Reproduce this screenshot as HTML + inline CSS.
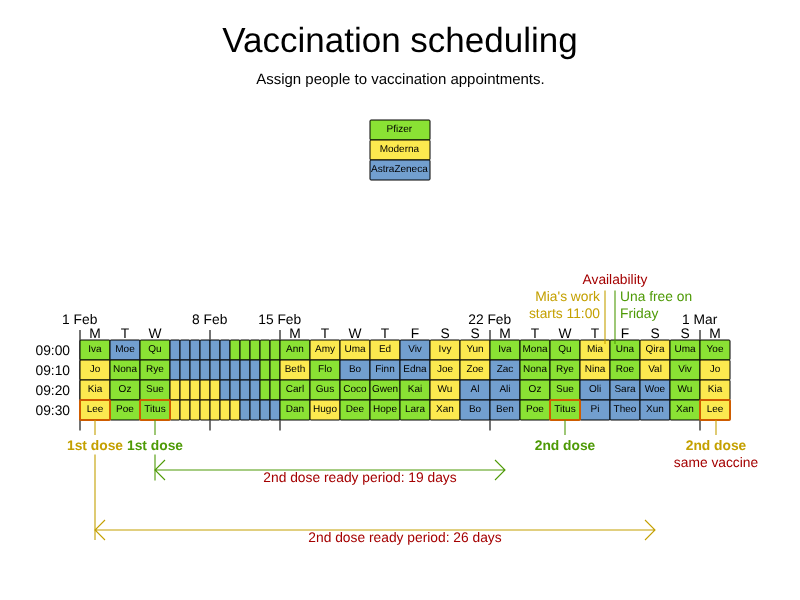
<!DOCTYPE html>
<html lang="en"><head><meta charset="utf-8"><title>Vaccination scheduling</title>
<style>text{text-rendering:geometricPrecision}html,body{margin:0;padding:0;background:#fff;overflow:hidden}svg{display:block}</style></head>
<body>
<svg width="800" height="600" viewBox="0 0 800 600" font-family="'Liberation Sans', sans-serif">
<rect width="800" height="600" fill="#fff"/>
<text x="400" y="51.5" font-size="35" text-anchor="middle" fill="#000">Vaccination scheduling</text>
<text x="400.4" y="83.5" font-size="15" text-anchor="middle" fill="#000">Assign people to vaccination appointments.</text>
<rect x="370" y="120" width="60" height="20" rx="1" fill="#8ae234" stroke="#000" stroke-width="1"/>
<text x="399.4" y="132.3" font-size="10" text-anchor="middle" fill="#000">Pfizer</text>
<rect x="370" y="140" width="60" height="20" rx="1" fill="#fce94f" stroke="#000" stroke-width="1"/>
<text x="399.4" y="152.3" font-size="10" text-anchor="middle" fill="#000">Moderna</text>
<rect x="370" y="160" width="60" height="20" rx="1" fill="#729fcf" stroke="#000" stroke-width="1"/>
<text x="399.4" y="172.3" font-size="10" text-anchor="middle" fill="#000">AstraZeneca</text>
<line x1="80" y1="330" x2="80" y2="430.5" stroke="#000" stroke-width="1.1"/>
<line x1="210" y1="330" x2="210" y2="430.5" stroke="#000" stroke-width="1.1"/>
<line x1="280" y1="330" x2="280" y2="430.5" stroke="#000" stroke-width="1.1"/>
<line x1="490" y1="330" x2="490" y2="430.5" stroke="#000" stroke-width="1.1"/>
<line x1="700" y1="330" x2="700" y2="430.5" stroke="#000" stroke-width="1.1"/>
<text x="79.7" y="324" font-size="13.8" text-anchor="middle" fill="#000">1 Feb</text>
<text x="209.7" y="324" font-size="13.8" text-anchor="middle" fill="#000">8 Feb</text>
<text x="279.7" y="324" font-size="13.8" text-anchor="middle" fill="#000">15 Feb</text>
<text x="489.7" y="324" font-size="13.8" text-anchor="middle" fill="#000">22 Feb</text>
<text x="699.7" y="324" font-size="13.8" text-anchor="middle" fill="#000">1 Mar</text>
<text x="95.0" y="337.6" font-size="13.8" text-anchor="middle" fill="#000">M</text>
<text x="125.0" y="337.6" font-size="13.8" text-anchor="middle" fill="#000">T</text>
<text x="155.0" y="337.6" font-size="13.8" text-anchor="middle" fill="#000">W</text>
<text x="295.0" y="337.6" font-size="13.8" text-anchor="middle" fill="#000">M</text>
<text x="325.0" y="337.6" font-size="13.8" text-anchor="middle" fill="#000">T</text>
<text x="355.0" y="337.6" font-size="13.8" text-anchor="middle" fill="#000">W</text>
<text x="385.0" y="337.6" font-size="13.8" text-anchor="middle" fill="#000">T</text>
<text x="415.0" y="337.6" font-size="13.8" text-anchor="middle" fill="#000">F</text>
<text x="445.0" y="337.6" font-size="13.8" text-anchor="middle" fill="#000">S</text>
<text x="475.0" y="337.6" font-size="13.8" text-anchor="middle" fill="#000">S</text>
<text x="505.0" y="337.6" font-size="13.8" text-anchor="middle" fill="#000">M</text>
<text x="535.0" y="337.6" font-size="13.8" text-anchor="middle" fill="#000">T</text>
<text x="565.0" y="337.6" font-size="13.8" text-anchor="middle" fill="#000">W</text>
<text x="595.0" y="337.6" font-size="13.8" text-anchor="middle" fill="#000">T</text>
<text x="625.0" y="337.6" font-size="13.8" text-anchor="middle" fill="#000">F</text>
<text x="655.0" y="337.6" font-size="13.8" text-anchor="middle" fill="#000">S</text>
<text x="685.0" y="337.6" font-size="13.8" text-anchor="middle" fill="#000">S</text>
<text x="715.0" y="337.6" font-size="13.8" text-anchor="middle" fill="#000">M</text>
<text x="70" y="354.8" font-size="13.8" text-anchor="end" fill="#000">09:00</text>
<text x="70" y="374.8" font-size="13.8" text-anchor="end" fill="#000">09:10</text>
<text x="70" y="394.8" font-size="13.8" text-anchor="end" fill="#000">09:20</text>
<text x="70" y="414.8" font-size="13.8" text-anchor="end" fill="#000">09:30</text>
<rect x="80" y="340" width="30" height="20" rx="1" fill="#8ae234" stroke="#000" stroke-width="1"/>
<text x="95.0" y="352.3" font-size="10" text-anchor="middle" fill="#000">Iva</text>
<rect x="110" y="340" width="30" height="20" rx="1" fill="#729fcf" stroke="#000" stroke-width="1"/>
<text x="125.0" y="352.3" font-size="10" text-anchor="middle" fill="#000">Moe</text>
<rect x="140" y="340" width="30" height="20" rx="1" fill="#8ae234" stroke="#000" stroke-width="1"/>
<text x="155.0" y="352.3" font-size="10" text-anchor="middle" fill="#000">Qu</text>
<rect x="170" y="340" width="10" height="20" rx="1" fill="#729fcf" stroke="#000" stroke-width="1"/>
<rect x="180" y="340" width="10" height="20" rx="1" fill="#729fcf" stroke="#000" stroke-width="1"/>
<rect x="190" y="340" width="10" height="20" rx="1" fill="#729fcf" stroke="#000" stroke-width="1"/>
<rect x="200" y="340" width="10" height="20" rx="1" fill="#729fcf" stroke="#000" stroke-width="1"/>
<rect x="210" y="340" width="10" height="20" rx="1" fill="#729fcf" stroke="#000" stroke-width="1"/>
<rect x="220" y="340" width="10" height="20" rx="1" fill="#729fcf" stroke="#000" stroke-width="1"/>
<rect x="230" y="340" width="10" height="20" rx="1" fill="#8ae234" stroke="#000" stroke-width="1"/>
<rect x="240" y="340" width="10" height="20" rx="1" fill="#8ae234" stroke="#000" stroke-width="1"/>
<rect x="250" y="340" width="10" height="20" rx="1" fill="#8ae234" stroke="#000" stroke-width="1"/>
<rect x="260" y="340" width="10" height="20" rx="1" fill="#8ae234" stroke="#000" stroke-width="1"/>
<rect x="270" y="340" width="10" height="20" rx="1" fill="#8ae234" stroke="#000" stroke-width="1"/>
<rect x="280" y="340" width="30" height="20" rx="1" fill="#8ae234" stroke="#000" stroke-width="1"/>
<text x="295.0" y="352.3" font-size="10" text-anchor="middle" fill="#000">Ann</text>
<rect x="310" y="340" width="30" height="20" rx="1" fill="#fce94f" stroke="#000" stroke-width="1"/>
<text x="325.0" y="352.3" font-size="10" text-anchor="middle" fill="#000">Amy</text>
<rect x="340" y="340" width="30" height="20" rx="1" fill="#fce94f" stroke="#000" stroke-width="1"/>
<text x="355.0" y="352.3" font-size="10" text-anchor="middle" fill="#000">Uma</text>
<rect x="370" y="340" width="30" height="20" rx="1" fill="#fce94f" stroke="#000" stroke-width="1"/>
<text x="385.0" y="352.3" font-size="10" text-anchor="middle" fill="#000">Ed</text>
<rect x="400" y="340" width="30" height="20" rx="1" fill="#729fcf" stroke="#000" stroke-width="1"/>
<text x="415.0" y="352.3" font-size="10" text-anchor="middle" fill="#000">Viv</text>
<rect x="430" y="340" width="30" height="20" rx="1" fill="#fce94f" stroke="#000" stroke-width="1"/>
<text x="445.0" y="352.3" font-size="10" text-anchor="middle" fill="#000">Ivy</text>
<rect x="460" y="340" width="30" height="20" rx="1" fill="#fce94f" stroke="#000" stroke-width="1"/>
<text x="475.0" y="352.3" font-size="10" text-anchor="middle" fill="#000">Yun</text>
<rect x="490" y="340" width="30" height="20" rx="1" fill="#8ae234" stroke="#000" stroke-width="1"/>
<text x="505.0" y="352.3" font-size="10" text-anchor="middle" fill="#000">Iva</text>
<rect x="520" y="340" width="30" height="20" rx="1" fill="#8ae234" stroke="#000" stroke-width="1"/>
<text x="535.0" y="352.3" font-size="10" text-anchor="middle" fill="#000">Mona</text>
<rect x="550" y="340" width="30" height="20" rx="1" fill="#8ae234" stroke="#000" stroke-width="1"/>
<text x="565.0" y="352.3" font-size="10" text-anchor="middle" fill="#000">Qu</text>
<rect x="580" y="340" width="30" height="20" rx="1" fill="#fce94f" stroke="#000" stroke-width="1"/>
<text x="595.0" y="352.3" font-size="10" text-anchor="middle" fill="#000">Mia</text>
<rect x="610" y="340" width="30" height="20" rx="1" fill="#8ae234" stroke="#000" stroke-width="1"/>
<text x="625.0" y="352.3" font-size="10" text-anchor="middle" fill="#000">Una</text>
<rect x="640" y="340" width="30" height="20" rx="1" fill="#fce94f" stroke="#000" stroke-width="1"/>
<text x="655.0" y="352.3" font-size="10" text-anchor="middle" fill="#000">Qira</text>
<rect x="670" y="340" width="30" height="20" rx="1" fill="#8ae234" stroke="#000" stroke-width="1"/>
<text x="685.0" y="352.3" font-size="10" text-anchor="middle" fill="#000">Uma</text>
<rect x="700" y="340" width="30" height="20" rx="1" fill="#8ae234" stroke="#000" stroke-width="1"/>
<text x="715.0" y="352.3" font-size="10" text-anchor="middle" fill="#000">Yoe</text>
<rect x="80" y="360" width="30" height="20" rx="1" fill="#fce94f" stroke="#000" stroke-width="1"/>
<text x="95.0" y="372.3" font-size="10" text-anchor="middle" fill="#000">Jo</text>
<rect x="110" y="360" width="30" height="20" rx="1" fill="#8ae234" stroke="#000" stroke-width="1"/>
<text x="125.0" y="372.3" font-size="10" text-anchor="middle" fill="#000">Nona</text>
<rect x="140" y="360" width="30" height="20" rx="1" fill="#8ae234" stroke="#000" stroke-width="1"/>
<text x="155.0" y="372.3" font-size="10" text-anchor="middle" fill="#000">Rye</text>
<rect x="170" y="360" width="10" height="20" rx="1" fill="#729fcf" stroke="#000" stroke-width="1"/>
<rect x="180" y="360" width="10" height="20" rx="1" fill="#729fcf" stroke="#000" stroke-width="1"/>
<rect x="190" y="360" width="10" height="20" rx="1" fill="#729fcf" stroke="#000" stroke-width="1"/>
<rect x="200" y="360" width="10" height="20" rx="1" fill="#729fcf" stroke="#000" stroke-width="1"/>
<rect x="210" y="360" width="10" height="20" rx="1" fill="#729fcf" stroke="#000" stroke-width="1"/>
<rect x="220" y="360" width="10" height="20" rx="1" fill="#729fcf" stroke="#000" stroke-width="1"/>
<rect x="230" y="360" width="10" height="20" rx="1" fill="#729fcf" stroke="#000" stroke-width="1"/>
<rect x="240" y="360" width="10" height="20" rx="1" fill="#729fcf" stroke="#000" stroke-width="1"/>
<rect x="250" y="360" width="10" height="20" rx="1" fill="#729fcf" stroke="#000" stroke-width="1"/>
<rect x="260" y="360" width="10" height="20" rx="1" fill="#8ae234" stroke="#000" stroke-width="1"/>
<rect x="270" y="360" width="10" height="20" rx="1" fill="#8ae234" stroke="#000" stroke-width="1"/>
<rect x="280" y="360" width="30" height="20" rx="1" fill="#fce94f" stroke="#000" stroke-width="1"/>
<text x="295.0" y="372.3" font-size="10" text-anchor="middle" fill="#000">Beth</text>
<rect x="310" y="360" width="30" height="20" rx="1" fill="#8ae234" stroke="#000" stroke-width="1"/>
<text x="325.0" y="372.3" font-size="10" text-anchor="middle" fill="#000">Flo</text>
<rect x="340" y="360" width="30" height="20" rx="1" fill="#729fcf" stroke="#000" stroke-width="1"/>
<text x="355.0" y="372.3" font-size="10" text-anchor="middle" fill="#000">Bo</text>
<rect x="370" y="360" width="30" height="20" rx="1" fill="#729fcf" stroke="#000" stroke-width="1"/>
<text x="385.0" y="372.3" font-size="10" text-anchor="middle" fill="#000">Finn</text>
<rect x="400" y="360" width="30" height="20" rx="1" fill="#729fcf" stroke="#000" stroke-width="1"/>
<text x="415.0" y="372.3" font-size="10" text-anchor="middle" fill="#000">Edna</text>
<rect x="430" y="360" width="30" height="20" rx="1" fill="#fce94f" stroke="#000" stroke-width="1"/>
<text x="445.0" y="372.3" font-size="10" text-anchor="middle" fill="#000">Joe</text>
<rect x="460" y="360" width="30" height="20" rx="1" fill="#fce94f" stroke="#000" stroke-width="1"/>
<text x="475.0" y="372.3" font-size="10" text-anchor="middle" fill="#000">Zoe</text>
<rect x="490" y="360" width="30" height="20" rx="1" fill="#729fcf" stroke="#000" stroke-width="1"/>
<text x="505.0" y="372.3" font-size="10" text-anchor="middle" fill="#000">Zac</text>
<rect x="520" y="360" width="30" height="20" rx="1" fill="#8ae234" stroke="#000" stroke-width="1"/>
<text x="535.0" y="372.3" font-size="10" text-anchor="middle" fill="#000">Nona</text>
<rect x="550" y="360" width="30" height="20" rx="1" fill="#8ae234" stroke="#000" stroke-width="1"/>
<text x="565.0" y="372.3" font-size="10" text-anchor="middle" fill="#000">Rye</text>
<rect x="580" y="360" width="30" height="20" rx="1" fill="#fce94f" stroke="#000" stroke-width="1"/>
<text x="595.0" y="372.3" font-size="10" text-anchor="middle" fill="#000">Nina</text>
<rect x="610" y="360" width="30" height="20" rx="1" fill="#8ae234" stroke="#000" stroke-width="1"/>
<text x="625.0" y="372.3" font-size="10" text-anchor="middle" fill="#000">Roe</text>
<rect x="640" y="360" width="30" height="20" rx="1" fill="#fce94f" stroke="#000" stroke-width="1"/>
<text x="655.0" y="372.3" font-size="10" text-anchor="middle" fill="#000">Val</text>
<rect x="670" y="360" width="30" height="20" rx="1" fill="#8ae234" stroke="#000" stroke-width="1"/>
<text x="685.0" y="372.3" font-size="10" text-anchor="middle" fill="#000">Viv</text>
<rect x="700" y="360" width="30" height="20" rx="1" fill="#fce94f" stroke="#000" stroke-width="1"/>
<text x="715.0" y="372.3" font-size="10" text-anchor="middle" fill="#000">Jo</text>
<rect x="80" y="380" width="30" height="20" rx="1" fill="#fce94f" stroke="#000" stroke-width="1"/>
<text x="95.0" y="392.3" font-size="10" text-anchor="middle" fill="#000">Kia</text>
<rect x="110" y="380" width="30" height="20" rx="1" fill="#8ae234" stroke="#000" stroke-width="1"/>
<text x="125.0" y="392.3" font-size="10" text-anchor="middle" fill="#000">Oz</text>
<rect x="140" y="380" width="30" height="20" rx="1" fill="#8ae234" stroke="#000" stroke-width="1"/>
<text x="155.0" y="392.3" font-size="10" text-anchor="middle" fill="#000">Sue</text>
<rect x="170" y="380" width="10" height="20" rx="1" fill="#fce94f" stroke="#000" stroke-width="1"/>
<rect x="180" y="380" width="10" height="20" rx="1" fill="#fce94f" stroke="#000" stroke-width="1"/>
<rect x="190" y="380" width="10" height="20" rx="1" fill="#fce94f" stroke="#000" stroke-width="1"/>
<rect x="200" y="380" width="10" height="20" rx="1" fill="#fce94f" stroke="#000" stroke-width="1"/>
<rect x="210" y="380" width="10" height="20" rx="1" fill="#fce94f" stroke="#000" stroke-width="1"/>
<rect x="220" y="380" width="10" height="20" rx="1" fill="#729fcf" stroke="#000" stroke-width="1"/>
<rect x="230" y="380" width="10" height="20" rx="1" fill="#729fcf" stroke="#000" stroke-width="1"/>
<rect x="240" y="380" width="10" height="20" rx="1" fill="#729fcf" stroke="#000" stroke-width="1"/>
<rect x="250" y="380" width="10" height="20" rx="1" fill="#729fcf" stroke="#000" stroke-width="1"/>
<rect x="260" y="380" width="10" height="20" rx="1" fill="#8ae234" stroke="#000" stroke-width="1"/>
<rect x="270" y="380" width="10" height="20" rx="1" fill="#8ae234" stroke="#000" stroke-width="1"/>
<rect x="280" y="380" width="30" height="20" rx="1" fill="#8ae234" stroke="#000" stroke-width="1"/>
<text x="295.0" y="392.3" font-size="10" text-anchor="middle" fill="#000">Carl</text>
<rect x="310" y="380" width="30" height="20" rx="1" fill="#8ae234" stroke="#000" stroke-width="1"/>
<text x="325.0" y="392.3" font-size="10" text-anchor="middle" fill="#000">Gus</text>
<rect x="340" y="380" width="30" height="20" rx="1" fill="#8ae234" stroke="#000" stroke-width="1"/>
<text x="355.0" y="392.3" font-size="10" text-anchor="middle" fill="#000">Coco</text>
<rect x="370" y="380" width="30" height="20" rx="1" fill="#8ae234" stroke="#000" stroke-width="1"/>
<text x="385.0" y="392.3" font-size="10" text-anchor="middle" fill="#000">Gwen</text>
<rect x="400" y="380" width="30" height="20" rx="1" fill="#8ae234" stroke="#000" stroke-width="1"/>
<text x="415.0" y="392.3" font-size="10" text-anchor="middle" fill="#000">Kai</text>
<rect x="430" y="380" width="30" height="20" rx="1" fill="#fce94f" stroke="#000" stroke-width="1"/>
<text x="445.0" y="392.3" font-size="10" text-anchor="middle" fill="#000">Wu</text>
<rect x="460" y="380" width="30" height="20" rx="1" fill="#729fcf" stroke="#000" stroke-width="1"/>
<text x="475.0" y="392.3" font-size="10" text-anchor="middle" fill="#000">Al</text>
<rect x="490" y="380" width="30" height="20" rx="1" fill="#729fcf" stroke="#000" stroke-width="1"/>
<text x="505.0" y="392.3" font-size="10" text-anchor="middle" fill="#000">Ali</text>
<rect x="520" y="380" width="30" height="20" rx="1" fill="#8ae234" stroke="#000" stroke-width="1"/>
<text x="535.0" y="392.3" font-size="10" text-anchor="middle" fill="#000">Oz</text>
<rect x="550" y="380" width="30" height="20" rx="1" fill="#8ae234" stroke="#000" stroke-width="1"/>
<text x="565.0" y="392.3" font-size="10" text-anchor="middle" fill="#000">Sue</text>
<rect x="580" y="380" width="30" height="20" rx="1" fill="#729fcf" stroke="#000" stroke-width="1"/>
<text x="595.0" y="392.3" font-size="10" text-anchor="middle" fill="#000">Oli</text>
<rect x="610" y="380" width="30" height="20" rx="1" fill="#729fcf" stroke="#000" stroke-width="1"/>
<text x="625.0" y="392.3" font-size="10" text-anchor="middle" fill="#000">Sara</text>
<rect x="640" y="380" width="30" height="20" rx="1" fill="#729fcf" stroke="#000" stroke-width="1"/>
<text x="655.0" y="392.3" font-size="10" text-anchor="middle" fill="#000">Woe</text>
<rect x="670" y="380" width="30" height="20" rx="1" fill="#8ae234" stroke="#000" stroke-width="1"/>
<text x="685.0" y="392.3" font-size="10" text-anchor="middle" fill="#000">Wu</text>
<rect x="700" y="380" width="30" height="20" rx="1" fill="#fce94f" stroke="#000" stroke-width="1"/>
<text x="715.0" y="392.3" font-size="10" text-anchor="middle" fill="#000">Kia</text>
<rect x="80" y="400" width="30" height="20" rx="1" fill="#fce94f" stroke="#000" stroke-width="1"/>
<text x="95.0" y="412.3" font-size="10" text-anchor="middle" fill="#000">Lee</text>
<rect x="110" y="400" width="30" height="20" rx="1" fill="#8ae234" stroke="#000" stroke-width="1"/>
<text x="125.0" y="412.3" font-size="10" text-anchor="middle" fill="#000">Poe</text>
<rect x="140" y="400" width="30" height="20" rx="1" fill="#8ae234" stroke="#000" stroke-width="1"/>
<text x="155.0" y="412.3" font-size="10" text-anchor="middle" fill="#000">Titus</text>
<rect x="170" y="400" width="10" height="20" rx="1" fill="#fce94f" stroke="#000" stroke-width="1"/>
<rect x="180" y="400" width="10" height="20" rx="1" fill="#fce94f" stroke="#000" stroke-width="1"/>
<rect x="190" y="400" width="10" height="20" rx="1" fill="#fce94f" stroke="#000" stroke-width="1"/>
<rect x="200" y="400" width="10" height="20" rx="1" fill="#fce94f" stroke="#000" stroke-width="1"/>
<rect x="210" y="400" width="10" height="20" rx="1" fill="#fce94f" stroke="#000" stroke-width="1"/>
<rect x="220" y="400" width="10" height="20" rx="1" fill="#fce94f" stroke="#000" stroke-width="1"/>
<rect x="230" y="400" width="10" height="20" rx="1" fill="#fce94f" stroke="#000" stroke-width="1"/>
<rect x="240" y="400" width="10" height="20" rx="1" fill="#729fcf" stroke="#000" stroke-width="1"/>
<rect x="250" y="400" width="10" height="20" rx="1" fill="#729fcf" stroke="#000" stroke-width="1"/>
<rect x="260" y="400" width="10" height="20" rx="1" fill="#729fcf" stroke="#000" stroke-width="1"/>
<rect x="270" y="400" width="10" height="20" rx="1" fill="#729fcf" stroke="#000" stroke-width="1"/>
<rect x="280" y="400" width="30" height="20" rx="1" fill="#8ae234" stroke="#000" stroke-width="1"/>
<text x="295.0" y="412.3" font-size="10" text-anchor="middle" fill="#000">Dan</text>
<rect x="310" y="400" width="30" height="20" rx="1" fill="#fce94f" stroke="#000" stroke-width="1"/>
<text x="325.0" y="412.3" font-size="10" text-anchor="middle" fill="#000">Hugo</text>
<rect x="340" y="400" width="30" height="20" rx="1" fill="#8ae234" stroke="#000" stroke-width="1"/>
<text x="355.0" y="412.3" font-size="10" text-anchor="middle" fill="#000">Dee</text>
<rect x="370" y="400" width="30" height="20" rx="1" fill="#8ae234" stroke="#000" stroke-width="1"/>
<text x="385.0" y="412.3" font-size="10" text-anchor="middle" fill="#000">Hope</text>
<rect x="400" y="400" width="30" height="20" rx="1" fill="#8ae234" stroke="#000" stroke-width="1"/>
<text x="415.0" y="412.3" font-size="10" text-anchor="middle" fill="#000">Lara</text>
<rect x="430" y="400" width="30" height="20" rx="1" fill="#fce94f" stroke="#000" stroke-width="1"/>
<text x="445.0" y="412.3" font-size="10" text-anchor="middle" fill="#000">Xan</text>
<rect x="460" y="400" width="30" height="20" rx="1" fill="#729fcf" stroke="#000" stroke-width="1"/>
<text x="475.0" y="412.3" font-size="10" text-anchor="middle" fill="#000">Bo</text>
<rect x="490" y="400" width="30" height="20" rx="1" fill="#729fcf" stroke="#000" stroke-width="1"/>
<text x="505.0" y="412.3" font-size="10" text-anchor="middle" fill="#000">Ben</text>
<rect x="520" y="400" width="30" height="20" rx="1" fill="#8ae234" stroke="#000" stroke-width="1"/>
<text x="535.0" y="412.3" font-size="10" text-anchor="middle" fill="#000">Poe</text>
<rect x="550" y="400" width="30" height="20" rx="1" fill="#8ae234" stroke="#000" stroke-width="1"/>
<text x="565.0" y="412.3" font-size="10" text-anchor="middle" fill="#000">Titus</text>
<rect x="580" y="400" width="30" height="20" rx="1" fill="#729fcf" stroke="#000" stroke-width="1"/>
<text x="595.0" y="412.3" font-size="10" text-anchor="middle" fill="#000">Pi</text>
<rect x="610" y="400" width="30" height="20" rx="1" fill="#729fcf" stroke="#000" stroke-width="1"/>
<text x="625.0" y="412.3" font-size="10" text-anchor="middle" fill="#000">Theo</text>
<rect x="640" y="400" width="30" height="20" rx="1" fill="#729fcf" stroke="#000" stroke-width="1"/>
<text x="655.0" y="412.3" font-size="10" text-anchor="middle" fill="#000">Xun</text>
<rect x="670" y="400" width="30" height="20" rx="1" fill="#8ae234" stroke="#000" stroke-width="1"/>
<text x="685.0" y="412.3" font-size="10" text-anchor="middle" fill="#000">Xan</text>
<rect x="700" y="400" width="30" height="20" rx="1" fill="#fce94f" stroke="#000" stroke-width="1"/>
<text x="715.0" y="412.3" font-size="10" text-anchor="middle" fill="#000">Lee</text>
<rect x="80" y="400" width="30" height="20" rx="1" fill="none" stroke="#ce5c00" stroke-width="2"/>
<rect x="140" y="400" width="30" height="20" rx="1" fill="none" stroke="#ce5c00" stroke-width="2"/>
<rect x="550" y="400" width="30" height="20" rx="1" fill="none" stroke="#ce5c00" stroke-width="2"/>
<rect x="700" y="400" width="30" height="20" rx="1" fill="none" stroke="#ce5c00" stroke-width="2"/>
<path d="M95 420V435M95 454.5V540" fill="none" stroke="#c4a000" stroke-width="1.1"/>
<path d="M155 420V435M155 454.5V480.5" fill="none" stroke="#4e9a06" stroke-width="1.1"/>
<text x="95" y="450" font-size="13.8" font-weight="bold" text-anchor="middle" fill="#c4a000">1st dose</text>
<text x="155" y="450" font-size="13.8" font-weight="bold" text-anchor="middle" fill="#4e9a06">1st dose</text>
<path d="M155 470H505M165 460L155 470L165 480M495 460L505 470L495 480" fill="none" stroke="#4e9a06" stroke-width="1.1"/>
<text x="360" y="482.3" font-size="13.8" text-anchor="middle" fill="#a40000">2nd dose ready period: 19 days</text>
<path d="M95 530H655M105 520L95 530L105 540M645 520L655 530L645 540" fill="none" stroke="#c4a000" stroke-width="1.1"/>
<text x="405" y="542.3" font-size="13.8" text-anchor="middle" fill="#a40000">2nd dose ready period: 26 days</text>
<line x1="565" y1="420" x2="565" y2="435" stroke="#4e9a06" stroke-width="1.1"/>
<text x="565" y="450" font-size="13.8" font-weight="bold" text-anchor="middle" fill="#4e9a06">2nd dose</text>
<line x1="716" y1="420" x2="716" y2="435" stroke="#c4a000" stroke-width="1.1"/>
<text x="716" y="450" font-size="13.8" font-weight="bold" text-anchor="middle" fill="#c4a000">2nd dose</text>
<text x="716" y="467" font-size="13.8" text-anchor="middle" fill="#a40000">same vaccine</text>
<text x="615" y="284" font-size="13.8" text-anchor="middle" fill="#a40000">Availability</text>
<text x="600" y="301" font-size="13.8" text-anchor="end" fill="#c4a000">Mia's work</text>
<text x="600" y="318" font-size="13.8" text-anchor="end" fill="#c4a000">starts 11:00</text>
<text x="620" y="301" font-size="13.8" text-anchor="start" fill="#4e9a06">Una free on</text>
<text x="620" y="318" font-size="13.8" text-anchor="start" fill="#4e9a06">Friday</text>
<line x1="605" y1="290.5" x2="605" y2="344" stroke="#c4a000" stroke-width="1.1"/>
<line x1="615" y1="290.5" x2="615" y2="344" stroke="#4e9a06" stroke-width="1.1"/>
</svg>
</body></html>
